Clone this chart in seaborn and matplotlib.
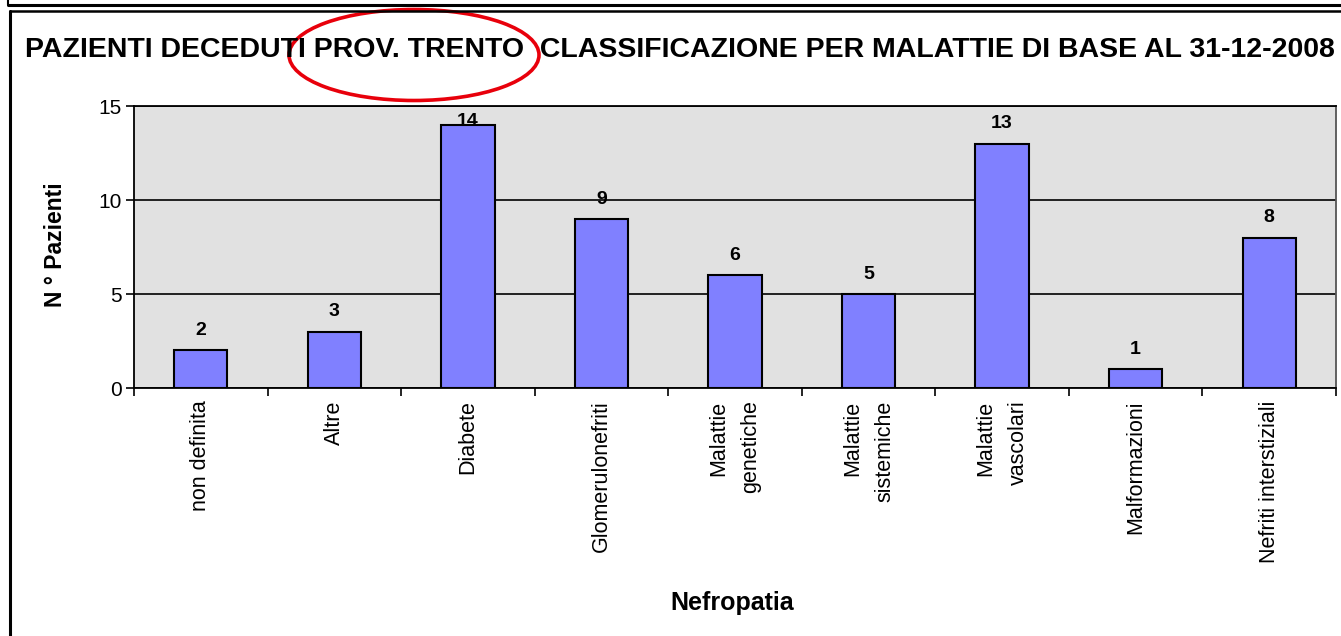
import matplotlib
matplotlib.use("Agg")
import matplotlib.pyplot as plt
import seaborn as sns
import pandas as pd
import numpy as np
from matplotlib.patches import Ellipse
from matplotlib.lines import Line2D

categories = ["non definita", "Altre", "Diabete", "Glomerulonefriti",
              "Malattie\ngenetiche", "Malattie\nsistemiche", "Malattie\nvascolari",
              "Malformazioni", "Nefriti interstiziali"]
values = [2, 3, 14, 9, 6, 5, 13, 1, 8]
yticks = [0, 5, 10, 15]
title = "PAZIENTI DECEDUTI PROV. TRENTO  CLASSIFICAZIONE PER MALATTIE DI BASE AL 31-12-2008"
xlabel = "Nefropatia"
ylabel = "N ° Pazienti"

sns.set_theme(style="white")
plt.rcParams['font.family'] = ['Liberation Sans', 'DejaVu Sans']
plt.rcParams['text.color'] = 'black'
plt.rcParams['xtick.color'] = 'black'
plt.rcParams['ytick.color'] = 'black'

W, H = 1341, 636
fig = plt.figure(figsize=(W / 100, H / 100), dpi=100)
fig.patch.set_facecolor("white")

def fx(px):
    return px / W

def fy(py):
    return 1 - py / H

ax = fig.add_axes([fx(134), fy(388), fx(1336) - fx(134), fy(106) - fy(388)])
ax.set_facecolor("#E1E1E1")

df = pd.DataFrame({"cat": categories, "val": values})
sns.barplot(data=df, x="cat", y="val", ax=ax, color="#8080FF", saturation=1,
            width=0.4, edgecolor="black", linewidth=1.5, zorder=3)

ax.set_xlim(-0.5, len(categories) - 0.5)
ax.set_ylim(0, 15)
ax.set_yticks(yticks)
ax.set_yticklabels([str(t) for t in yticks], fontsize=15)
ax.yaxis.grid(True, color="black", linewidth=1.2, zorder=1)
ax.set_axisbelow(True)
ax.tick_params(axis="y", direction="out", length=6, width=1.2, color="black", left=True, pad=3)

ax.set_xticks(range(len(categories)))
ax.set_xticklabels(categories, rotation=90, fontsize=15.5, va="top", ha="center",
                   multialignment="right", linespacing=1.7)
ax.tick_params(axis="x", which="major", length=0, pad=9)
ax.set_xticks(np.arange(-0.5, len(categories), 1.0), minor=True)
ax.tick_params(axis="x", which="minor", direction="out", length=6, width=1.2,
               color="black", bottom=True)

for s in ["left", "bottom", "top"]:
    ax.spines[s].set_color("black")
    ax.spines[s].set_linewidth(1.3)
ax.spines["right"].set_color("#555555")
ax.spines["right"].set_linewidth(1.3)

for i, v in enumerate(values):
    ax.text(i, min(v + 0.6, 13.7), str(v), ha="center", va="bottom", fontsize=14,
            fontweight="bold", color="black", zorder=5)

ax.set_xlabel("")
ax.set_ylabel("")
fig.text(fx(732), fy(603), xlabel, ha="center", va="center", fontsize=18, fontweight="bold")
fig.text(fx(56), fy(245), ylabel, ha="center", va="center", rotation=90,
         fontsize=16.5, fontweight="bold")

fig.text(fx(25), fy(50), title, ha="left", va="center", fontsize=20.5, fontweight="bold")

# frame lines
fig.add_artist(Line2D([fx(8), 1], [fy(4.5), fy(4.5)], transform=fig.transFigure,
                      color="black", linewidth=2.2))
fig.add_artist(Line2D([fx(8), fx(8)], [1, fy(4.5)], transform=fig.transFigure,
                      color="black", linewidth=1.5))
fig.add_artist(Line2D([fx(9.5), 1], [fy(11), fy(11)], transform=fig.transFigure,
                      color="black", linewidth=1.8))
fig.add_artist(Line2D([fx(9.5), fx(9.5)], [fy(11), 0], transform=fig.transFigure,
                      color="black", linewidth=2.2))

# red ellipse
fig.add_artist(Ellipse((fx(414), fy(55)), width=fx(250), height=91 / H,
                       transform=fig.transFigure, fill=False, edgecolor="#E8000B",
                       linewidth=2.6, angle=0))

fig.savefig("out.png", dpi=100)
